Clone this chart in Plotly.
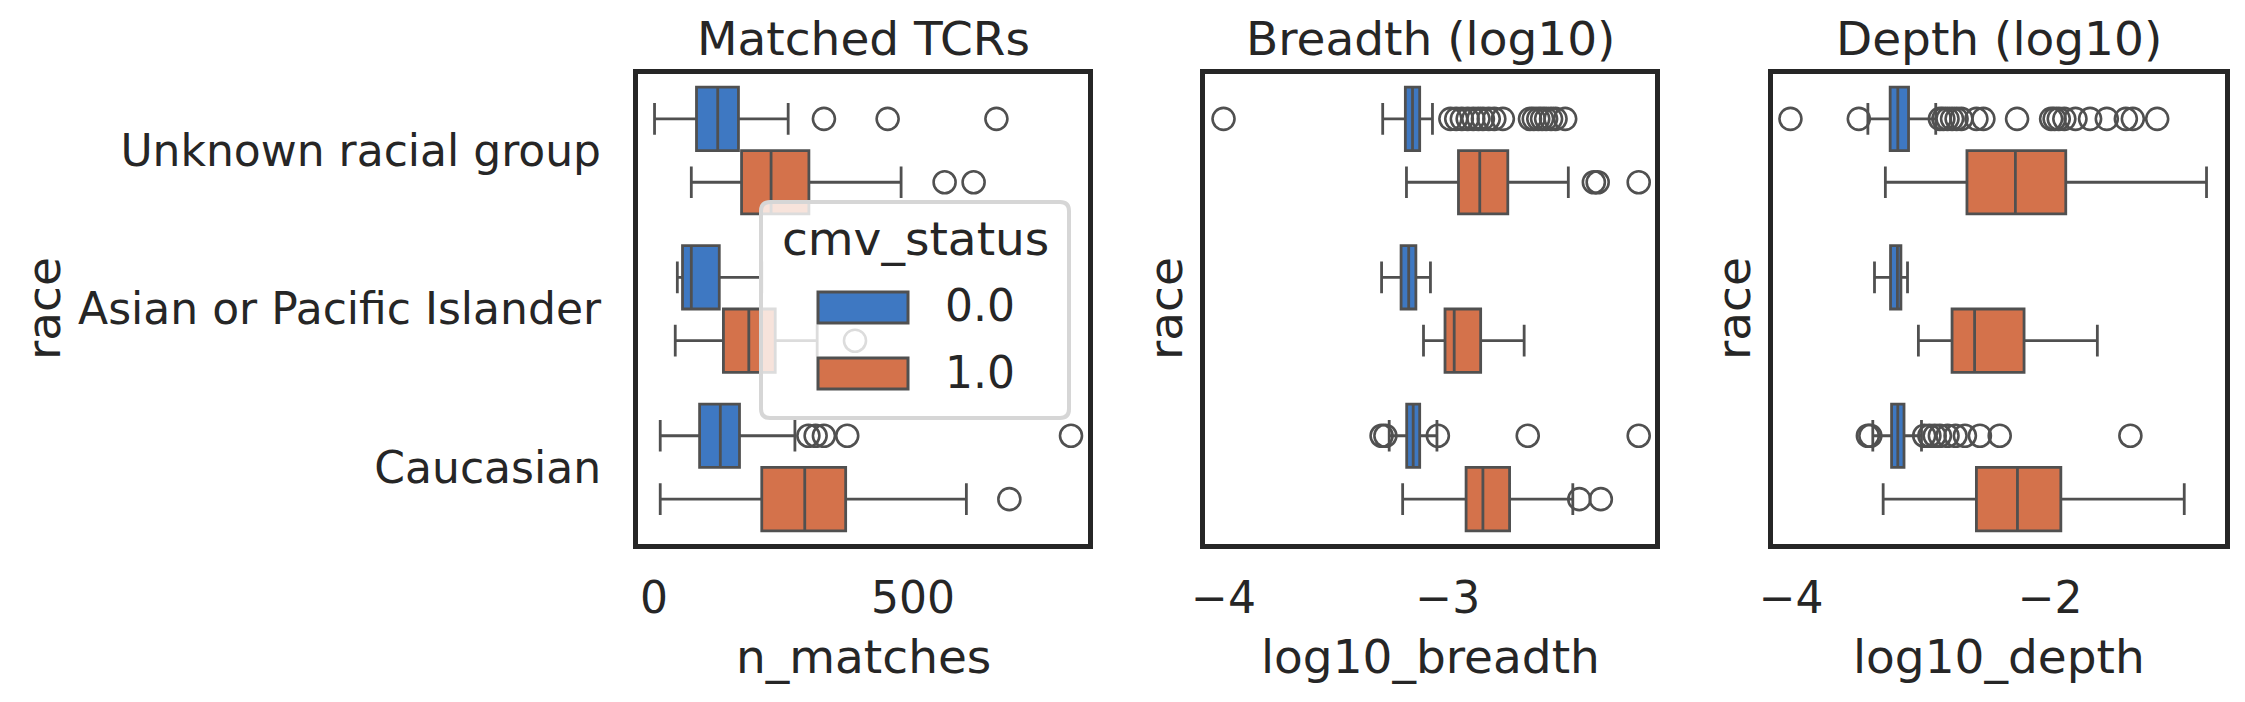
import plotly.graph_objects as go

# categories (top to bottom) and hue levels
races = ["Unknown racial group", "Asian or Pacific Islander", "Caucasian"]
cmv_levels = ["0.0", "1.0"]

# n_matches box stats (per race)
matches_lo_0 = [1, 45, 12]
matches_q1_0 = [82, 55, 88]
matches_med_0 = [123, 72, 128]
matches_q3_0 = [163, 126, 165]
matches_hi_0 = [259, 208, 272]
matches_lo_1 = [72, 41, 12]
matches_q1_1 = [169, 134, 208]
matches_med_1 = [226, 183, 291]
matches_q3_1 = [299, 234, 370]
matches_hi_1 = [477, 315, 603]
matches_out_0 = [[328, 451, 661], [], [298, 312, 328, 373, 805]]
matches_out_1 = [[561, 617], [388], [686]]

# log10_breadth
breadth_lo_0 = [-3.290, -3.295, -3.261]
breadth_q1_0 = [-3.189, -3.208, -3.183]
breadth_med_0 = [-3.157, -3.174, -3.154]
breadth_q3_0 = [-3.125, -3.142, -3.125]
breadth_hi_0 = [-3.068, -3.077, -3.048]
breadth_lo_1 = [-3.184, -3.108, -3.201]
breadth_q1_1 = [-2.952, -3.012, -2.918]
breadth_med_1 = [-2.857, -2.971, -2.843]
breadth_q3_1 = [-2.732, -2.853, -2.724]
breadth_hi_1 = [-2.462, -2.659, -2.442]
breadth_out_0 = [
    [-4.0, -2.988, -2.962, -2.937, -2.911, -2.886, -2.863, -2.843, -2.817, -2.792, -2.754,
     -2.633, -2.616, -2.596, -2.579, -2.561, -2.539, -2.519, -2.476],
    [],
    [-3.295, -3.278, -3.044, -2.643, -2.148],
]
breadth_out_1 = [[-2.348, -2.331, -2.148], [], [-2.413, -2.317]]

# log10_depth
depth_lo_0 = [-3.407, -3.356, -3.369]
depth_q1_0 = [-3.235, -3.232, -3.224]
depth_med_0 = [-3.176, -3.179, -3.176]
depth_q3_0 = [-3.093, -3.152, -3.128]
depth_hi_0 = [-2.883, -3.101, -2.993]
depth_lo_1 = [-3.272, -3.017, -3.289]
depth_q1_1 = [-2.642, -2.757, -2.569]
depth_med_1 = [-2.268, -2.583, -2.252]
depth_q3_1 = [-1.879, -2.201, -1.917]
depth_hi_1 = [-0.792, -1.635, -0.964]
depth_out_0 = [
    [-4.005, -3.477, -2.851, -2.824, -2.792, -2.757, -2.722, -2.685, -2.569, -2.515, -2.255,
     -1.992, -1.965, -1.933, -1.890, -1.804, -1.691, -1.562, -1.415, -1.361, -1.173],
    [],
    [-3.407, -3.388, -2.972, -2.932, -2.891, -2.851, -2.792, -2.730, -2.658, -2.542, -2.389, -1.380],
]
depth_out_1 = [[], [], []]

COLORS = ["#3E78C2", "#D4724B"]
EDGE = "#505050"
SPINE = "#262626"
TEXT = "#262626"
W, H = 2245, 702

panels = [
    dict(title="Matched TCRs", xlabel="n_matches", dtick=500, rng=[-31.5, 838.4],
         dom=[637.7, 1088.3], ylab_x=43,
         s0=[matches_lo_0, matches_q1_0, matches_med_0, matches_q3_0, matches_hi_0],
         s1=[matches_lo_1, matches_q1_1, matches_med_1, matches_q3_1, matches_hi_1],
         o0=matches_out_0, o1=matches_out_1),
    dict(title="Breadth (log10)", xlabel="log10_breadth", dtick=1, rng=[-4.084, -2.074],
         dom=[1204.7, 1655.3], ylab_x=1165,
         s0=[breadth_lo_0, breadth_q1_0, breadth_med_0, breadth_q3_0, breadth_hi_0],
         s1=[breadth_lo_1, breadth_q1_1, breadth_med_1, breadth_q3_1, breadth_hi_1],
         o0=breadth_out_0, o1=breadth_out_1),
    dict(title="Depth (log10)", xlabel="log10_depth", dtick=2, rng=[-4.142, -0.647],
         dom=[1772.7, 2225.3], ylab_x=1733,
         s0=[depth_lo_0, depth_q1_0, depth_med_0, depth_q3_0, depth_hi_0],
         s1=[depth_lo_1, depth_q1_1, depth_med_1, depth_q3_1, depth_hi_1],
         o0=depth_out_0, o1=depth_out_1),
]


def px(x):
    return x / W


def py(y):
    return 1 - y / H


fig = go.Figure()
annotations = []

for n, p in enumerate(panels, start=1):
    sfx = "" if n == 1 else str(n)
    xa, ya = "x" + sfx, "y" + sfx
    for k, (stats, outs) in enumerate([(p["s0"], p["o0"]), (p["s1"], p["o1"])]):
        pos = [i - 0.2 + 0.4 * k for i in range(len(races))]
        lo, q1, med, q3, hi = stats
        fig.add_trace(go.Box(
            y=pos, lowerfence=lo, q1=q1, median=med, q3=q3, upperfence=hi,
            orientation="h", width=0.4, whiskerwidth=0.5, boxpoints=False,
            fillcolor=COLORS[k], line=dict(color=EDGE, width=2.8),
            name=cmv_levels[k], showlegend=False, xaxis=xa, yaxis=ya))
        ox, oy = [], []
        for ypos, vals in zip(pos, outs):
            ox += vals
            oy += [ypos] * len(vals)
        fig.add_trace(go.Scatter(
            x=ox, y=oy, mode="markers", showlegend=False, xaxis=xa, yaxis=ya,
            marker=dict(symbol="circle-open", size=22, color=EDGE, line=dict(width=2.6))))

    fig.layout["xaxis" + sfx] = dict(
        domain=[px(p["dom"][0]), px(p["dom"][1])], anchor=ya, range=p["rng"],
        tick0=0, dtick=p["dtick"], showgrid=False, zeroline=False, ticks="",
        showline=True, mirror=True, linecolor=SPINE, linewidth=4.7,
        tickfont=dict(size=44), ticklabelstandoff=11, automargin=False)
    fig.layout["yaxis" + sfx] = dict(
        domain=[py(544.3), py(73.7)], anchor=xa, range=[2.485, -0.485],
        tickvals=[0, 1, 2], ticktext=races, showticklabels=(n == 1),
        showgrid=False, zeroline=False, ticks="",
        showline=True, mirror=True, linecolor=SPINE, linewidth=4.7,
        tickfont=dict(size=44), ticklabelstandoff=23, automargin=False)

    # panel title, x label and y label
    annotations.append(dict(text=p["title"], xref=xa + " domain", yref=ya + " domain",
                            x=0.5, y=1, xanchor="center", yanchor="bottom", yshift=6,
                            showarrow=False, font=dict(size=47)))
    annotations.append(dict(text=p["xlabel"], xref=xa + " domain", yref="paper",
                            x=0.5, y=py(656), xanchor="center", yanchor="middle",
                            showarrow=False, font=dict(size=47)))
    annotations.append(dict(text="race", xref="paper", yref=ya + " domain", textangle=-90,
                            x=px(p["ylab_x"]), y=0.5, xanchor="center", yanchor="middle",
                            showarrow=False, font=dict(size=47)))

# legend (drawn over the first panel, semi transparent like the original)
lx0, lx1, ly0, ly1, r = 761, 1069, 202, 418, 9
path = ("M {a},{b} L {c},{b} Q {d},{b} {d},{e} L {d},{f} Q {d},{g} {c},{g} "
        "L {a},{g} Q {h},{g} {h},{f} L {h},{e} Q {h},{b} {a},{b} Z").format(
    a=px(lx0 + r), b=py(ly0), c=px(lx1 - r), d=px(lx1), e=py(ly0 + r),
    f=py(ly1 - r), g=py(ly1), h=px(lx0))
shapes = [dict(type="path", path=path, xref="paper", yref="paper",
               fillcolor="rgba(255,255,255,0.8)", line=dict(color="#d6d6d6", width=4),
               layer="above")]
for k, (top, bot) in enumerate([(292, 323), (358, 389)]):
    shapes.append(dict(type="rect", xref="paper", yref="paper",
                       x0=px(818), x1=px(908), y0=py(bot), y1=py(top),
                       fillcolor=COLORS[k], line=dict(color=EDGE, width=3), layer="above"))
    annotations.append(dict(text=cmv_levels[k], xref="paper", yref="paper",
                            x=px(943), y=py([305, 372][k]), xanchor="left", yanchor="middle",
                            showarrow=False, font=dict(size=44)))
annotations.append(dict(text="cmv_status", xref="paper", yref="paper", x=px(915), y=py(238.5),
                        xanchor="center", yanchor="middle", showarrow=False,
                        font=dict(size=47)))

fig.update_layout(
    width=W, height=H, margin=dict(l=0, r=0, t=0, b=0),
    paper_bgcolor="white", plot_bgcolor="white", boxmode="overlay",
    font=dict(family="DejaVu Sans", color=TEXT),
    annotations=annotations, shapes=shapes, showlegend=False)

fig.write_html("out.html", config={"displayModeBar": False},
               post_script="document.body.style.margin='0';")
